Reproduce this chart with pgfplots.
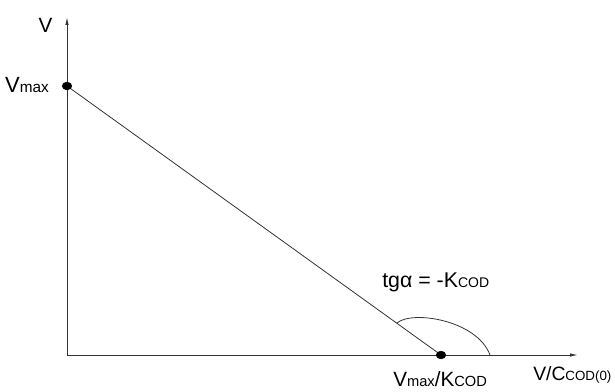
\documentclass[border=0pt]{standalone}
\usepackage{pgfplots}
\pgfplotsset{compat=1.18}
\usepackage{fontspec}
\setmainfont{Liberation Sans}
\usetikzlibrary{arrows.meta}
\definecolor{ink}{HTML}{333333}
\newcommand{\sm}[2]{{\fontsize{#1}{#1}\selectfont #2}}
\begin{document}
\begin{tikzpicture}
 \begin{axis}[
 scale only axis,
 x=0.75pt, y=0.75pt,
 xmin=0, xmax=511,
 ymin=0, ymax=338,
 axis lines=left,
 axis line style={ink, line width=0.7pt, -{Latex[length=6pt,width=2.6pt]}},
 ticks=none,
 clip=false,
 ]
 % V against V/C_COD(0): straight line between the two intercepts
 \addplot[ink, line width=0.6pt] coordinates {(0,269) (374,0)};
 \addplot[only marks, mark=*, mark size=2.9pt, mark options={black, xscale=1.25}]
 coordinates {(0,269) (374,0)};
 % angle arc
 \draw[ink, line width=0.6pt] (axis cs:330,32) .. controls (axis cs:345,45) and (axis cs:410,35) .. (axis cs:423,0);
 % labels
 \node[anchor=center, font=\fontsize{15.5}{16}\selectfont] at (axis cs:-21.5,330) {V};
 \node[anchor=base east, inner sep=0pt, font=\fontsize{16.5}{17}\selectfont] at (axis cs:-18,262) {V\sm{11.5}{max}};
 \node[anchor=base west, inner sep=0pt, font=\fontsize{15.5}{16}\selectfont] at (axis cs:326,-32) {V\sm{11}{max}/K\sm{11}{COD}};
 \node[anchor=base west, inner sep=0pt, font=\fontsize{14.5}{15}\selectfont] at (axis cs:466,-26) {V/C\sm{10}{COD(0)}};
 \node[anchor=base west, inner sep=0pt, font=\fontsize{16}{17}\selectfont] at (axis cs:315,67) {tgα = -K\sm{10.5}{COD}};
 \coordinate (bl) at (axis cs:-67,-37);
 \coordinate (tr) at (axis cs:548,355);
 \end{axis}
 \pgfresetboundingbox
 \path (bl) rectangle (tr);
\end{tikzpicture}
\end{document}
